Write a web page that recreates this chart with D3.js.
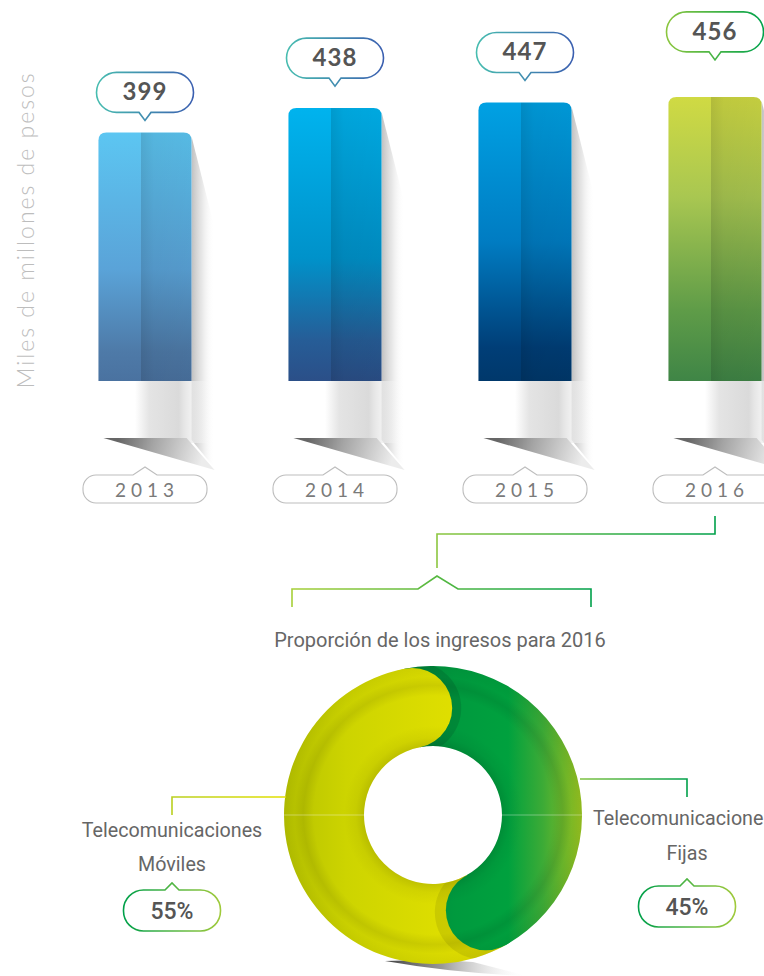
<!DOCTYPE html>
<html>
<head>
<meta charset="utf-8">
<script src="https://cdn.jsdelivr.net/npm/d3@7"></script>
<style>
  body { margin: 0; background: #fff; }
  svg { display: block; }
</style>
</head>
<body>
<div id="chart"></div>
<script>

// Data

var years = ["2013", "2014", "2015", "2016"];
var revenue = [399, 438, 447, 456];
var segmentNames = ["Fijas", "Móviles"];
var shares = [45, 55];

// Dimensions

var width = 764;
var height = 976;
var floorY = 381;

// Styles

var barStops = [
  [["0%", "#5cc6f2"], ["55%", "#5aa3d8"], ["88%", "#4e7aa8"], ["100%", "#4a72a0"]],
  [["0%", "#00b3ee"], ["55%", "#0092ca"], ["85%", "#265d97"], ["100%", "#2b4f88"]],
  [["0%", "#00a1e3"], ["50%", "#007cc2"], ["88%", "#003e77"], ["100%", "#00386b"]],
  [["0%", "#d0da43"], ["35%", "#a9c751"], ["75%", "#5f9c48"], ["100%", "#3f8546"]]
];
var bubbleStroke = [["#48bdb0", "#3b5fb0"], ["#48bdb0", "#3b5fb0"], ["#48bdb0", "#3b5fb0"], ["#8cc63f", "#00a24c"]];
var labelLift = [12, 22, 22, 37];

var svg = d3.select("#chart").append("svg")
    .attr("width", width)
    .attr("height", height);

var defs = svg.append("defs");

function gradient(id, stops, x1, y1, x2, y2, user) {
  var g = defs.append("linearGradient")
      .attr("id", id)
      .attr("x1", x1).attr("y1", y1).attr("x2", x2).attr("y2", y2);
  if (user) g.attr("gradientUnits", "userSpaceOnUse");
  stops.forEach(function(s) {
    g.append("stop")
      .attr("offset", s[0])
      .attr("stop-color", s[1])
      .attr("stop-opacity", s[2] === undefined ? 1 : s[2]);
  });
  return "url(#" + id + ")";
}

// pill with a pointer, pointer on "bottom" or "top"
function bubblePath(cx, y0, w, h, r, side, nw, nh) {
  var x0 = cx - w / 2, x1 = cx + w / 2, y1 = y0 + h;
  var p = "M" + (x0 + r) + "," + y0;
  if (side === "top") p += "H" + (cx - nw / 2) + "L" + cx + "," + (y0 - nh) + "L" + (cx + nw / 2) + "," + y0;
  p += "H" + (x1 - r) + "A" + r + "," + r + " 0 0 1 " + x1 + "," + (y0 + r);
  p += "V" + (y1 - r) + "A" + r + "," + r + " 0 0 1 " + (x1 - r) + "," + y1;
  if (side === "bottom") p += "H" + (cx + nw / 2) + "L" + cx + "," + (y1 + nh) + "L" + (cx - nw / 2) + "," + y1;
  p += "H" + (x0 + r) + "A" + r + "," + r + " 0 0 1 " + x0 + "," + (y1 - r);
  p += "V" + (y0 + r) + "A" + r + "," + r + " 0 0 1 " + (x0 + r) + "," + y0 + "Z";
  return p;
}

function barPath(x0, y0, w, h, r) {
  return "M" + x0 + "," + (y0 + h) + "V" + (y0 + r) +
    "Q" + x0 + "," + y0 + " " + (x0 + r) + "," + y0 +
    "H" + (x0 + w - r) +
    "Q" + (x0 + w) + "," + y0 + " " + (x0 + w) + "," + (y0 + r) +
    "V" + (y0 + h) + "Z";
}

// Scales

var x = d3.scaleBand()
    .domain(years)
    .range([50, 810])
    .paddingInner(0.51)
    .paddingOuter(0.255);

var y = d3.scaleLinear()
    .domain([0, 460])
    .range([floorY, floorY - 286.6]);

// Axis title

svg.append("text")
    .attr("transform", "translate(34,230) rotate(-90)")
    .attr("text-anchor", "middle")
    .style("font-family", "Lato, 'Open Sans', sans-serif")
    .style("font-weight", 300)
    .style("font-size", "23px")
    .style("letter-spacing", "2px")
    .style("fill", "#bdbdbd")
    .text("Miles de millones de pesos");

// Bars

var bars = svg.append("g").attr("class", "bars");

years.forEach(function(yr, i) {
  var v = revenue[i];
  var x0 = x(yr), w = x.bandwidth(), x1 = x0 + w, cx = x0 + w / 2;
  var top = y(v);
  var g = bars.append("g");

  // side shadow
  g.append("path")
    .attr("d", "M" + x1 + "," + (top + 4) + "L" + (x1 + 23) + "," + (top + 95) +
      "V" + 468 + "L" + x1 + "," + 440 + "Z")
    .attr("fill", gradient("side" + i, [["0%", "#8c8c8c", 0.55], ["45%", "#bbbbbb", 0.35], ["100%", "#ffffff", 0]], x1, 0, x1 + 23, 0, true));

  // strip below the bar
  g.append("rect")
    .attr("x", cx - 10).attr("y", floorY)
    .attr("width", x1 + 23 - (cx - 10)).attr("height", 62)
    .attr("fill", gradient("strip" + i, [["0%", "#ffffff"], ["18%", "#e4e4e4"], ["55%", "#dadada"], ["62%", "#e6e6e6"], ["100%", "#ffffff", 0]], cx - 10, 0, x1 + 23, 0, true));

  // wedge
  g.append("path")
    .attr("d", "M" + (x0 + 5) + ",438L" + (x1 - 5) + ",438L" + (x1 + 23) + ",470Z")
    .attr("fill", gradient("wedge" + i, [["0%", "#666"], ["40%", "#a4a4a4"], ["100%", "#ececec"]], x0 + 20, 438, x1 + 10, 462, true));

  // bar body
  var bp = barPath(x0, top, w, floorY - top, 8);
  defs.append("clipPath").attr("id", "clipBar" + i)
    .append("path").attr("d", bp);

  g.append("path")
    .attr("d", bp)
    .attr("fill", gradient("bar" + i, barStops[i], 0, top, 0, floorY, true));

  g.append("rect")
    .attr("clip-path", "url(#clipBar" + i + ")")
    .attr("x", cx - 4).attr("y", top)
    .attr("width", x1 - cx + 4).attr("height", floorY - top)
    .attr("fill", gradient("fold" + i, [["0%", "#000", 0.14], ["25%", "#000", 0.08], ["100%", "#000", 0.06]], cx - 4, 0, x1, 0, true));

  // value bubble
  var tip = top - labelLift[i];
  var bTop = tip - 8 - 40;
  g.append("path")
    .attr("d", bubblePath(cx, bTop, 97, 40, 20, "bottom", 12, 8))
    .attr("fill", "#fff")
    .attr("stroke", gradient("bub" + i, [["0%", bubbleStroke[i][0]], ["100%", bubbleStroke[i][1]]], "0%", "0%", "100%", "0%"))
    .attr("stroke-width", 1.6);

  g.append("text")
    .attr("x", cx).attr("y", bTop + 28)
    .attr("text-anchor", "middle")
    .style("font-family", "Lato, sans-serif")
    .style("font-weight", 700)
    .style("font-size", "24px")
    .style("letter-spacing", "1px")
    .style("fill", "#555")
    .text(v);

  // year box
  g.append("path")
    .attr("d", bubblePath(cx, 475, 124, 28, 13, "top", 24, 8))
    .attr("fill", "#fff")
    .attr("stroke", "#bdbdbd")
    .attr("stroke-width", 1.1);

  g.append("text")
    .attr("x", cx + 2).attr("y", 497)
    .attr("text-anchor", "middle")
    .style("font-family", "Lato, sans-serif")
    .style("font-weight", 400)
    .style("font-size", "19px")
    .style("letter-spacing", "5px")
    .style("fill", "#7a7a7a")
    .text(yr);
});

// Bracket connecting 2016 with the donut

var bx = x("2016") + x.bandwidth() / 2;

svg.append("path")
    .attr("d", "M" + bx + ",516V534H437V568")
    .attr("fill", "none")
    .attr("stroke", gradient("brk1", [["0%", "#8cc63f"], ["100%", "#00a04a"]], 437, 0, bx, 0, true))
    .attr("stroke-width", 1.6);

svg.append("path")
    .attr("d", "M292,607V589H418L437,576L458,589H591V607")
    .attr("fill", "none")
    .attr("stroke", gradient("brk2", [["0%", "#a6cf38"], ["100%", "#00a04a"]], 292, 0, 591, 0, true))
    .attr("stroke-width", 1.6);

svg.append("text")
    .attr("x", 440).attr("y", 647)
    .attr("text-anchor", "middle")
    .style("font-family", "Roboto, sans-serif")
    .style("font-size", "20px")
    .style("fill", "#666")
    .text("Proporción de los ingresos para 2016");

// Donut

var dcx = 433, dcy = 815, rOut = 149, rIn = 69, rMid = (rOut + rIn) / 2, capR = (rOut - rIn) / 2;
var a0 = -11 * Math.PI / 180;

var pie = d3.pie()
    .sort(null)
    .startAngle(a0)
    .endAngle(a0 + 2 * Math.PI);

var arc = d3.arc().innerRadius(rIn).outerRadius(rOut);
var arcs = pie(shares);

// gradients in the donut's local coordinates (centre at 0,0)
var fillGreen = gradient("gGreen", [["0%", "#00843d"], ["35%", "#009a3e"], ["62%", "#00a13e"], ["80%", "#3dab36"], ["100%", "#98c21f"]], -45, 0, rOut, 0, true);
var fillYellow = gradient("gYellow", [["0%", "#b6c200"], ["25%", "#cdd400"], ["60%", "#dcdd00"], ["100%", "#ede400"]], -rOut, 0, 100, 0, true);
var segFill = [fillGreen, fillYellow];

var donut = svg.append("g").attr("transform", "translate(" + dcx + "," + dcy + ")");

// bottom shadow
donut.append("path")
    .attr("d", "M-48,146Q0,144 40,147L95,161Q20,158 -48,146Z")
    .attr("fill", gradient("dshadow", [["0%", "#444"], ["40%", "#999"], ["100%", "#fff", 0]], -48, 0, 95, 0, true));

arcs.forEach(function(d, i) {
  defs.append("clipPath").attr("id", "clipSeg" + i)
    .append("path").attr("d", arc(d));
  donut.append("path")
    .attr("d", arc(d))
    .attr("fill", segFill[i]);
});

function capPos(a) { return [Math.sin(a) * rMid, -Math.cos(a) * rMid]; }

// yellow cap running into green at the top
var pTop = capPos(arcs[0].startAngle);
donut.append("circle")
    .attr("clip-path", "url(#clipSeg0)")
    .attr("cx", pTop[0] + 3).attr("cy", pTop[1])
    .attr("r", capR + 6)
    .attr("fill", "#00602a").attr("fill-opacity", 0.3);
donut.append("circle")
    .attr("cx", pTop[0]).attr("cy", pTop[1])
    .attr("r", capR)
    .attr("fill", fillYellow);

// green cap running into yellow at the bottom
var pBot = capPos(arcs[0].endAngle);
donut.append("circle")
    .attr("clip-path", "url(#clipSeg1)")
    .attr("cx", pBot[0] - 4).attr("cy", pBot[1] + 2)
    .attr("r", capR + 7)
    .attr("fill", "#8a8a00").attr("fill-opacity", 0.22);
donut.append("circle")
    .attr("cx", pBot[0]).attr("cy", pBot[1])
    .attr("r", capR)
    .attr("fill", fillGreen);

// ring shading
var rg = defs.append("radialGradient")
    .attr("id", "ringShade")
    .attr("gradientUnits", "userSpaceOnUse")
    .attr("cx", 0).attr("cy", 0).attr("r", rOut);
[[0.46, 0.12], [0.52, 0.04], [0.6, 0], [0.8, 0], [0.87, 0.08], [0.93, 0.02], [1, 0.05]].forEach(function(s) {
  rg.append("stop").attr("offset", s[0]).attr("stop-color", "#000").attr("stop-opacity", s[1]);
});
donut.append("path")
    .attr("d", d3.arc().innerRadius(rIn).outerRadius(rOut).startAngle(0).endAngle(2 * Math.PI)())
    .attr("fill", "url(#ringShade)");

// faint horizontal highlight
[[-rOut, -rIn], [rIn, rOut]].forEach(function(s) {
  donut.append("line")
    .attr("x1", s[0]).attr("x2", s[1]).attr("y1", 0).attr("y2", 0)
    .attr("stroke", "#ffffff").attr("stroke-opacity", 0.35).attr("stroke-width", 1);
});

// Donut labels

var labelFont = "Roboto, sans-serif";

// Móviles (left)
svg.append("path")
    .attr("d", "M172,815V797H" + (dcx - rOut + 2))
    .attr("fill", "none")
    .attr("stroke", gradient("lnL", [["0%", "#b9cf1f"], ["100%", "#e2e000"]], 172, 0, dcx - rOut, 0, true))
    .attr("stroke-width", 1.6);

svg.append("text")
    .attr("x", 172).attr("y", 837)
    .attr("text-anchor", "middle")
    .style("font-family", labelFont).style("font-size", "19.7px").style("fill", "#666")
    .text("Telecomunicaciones");
svg.append("text")
    .attr("x", 172).attr("y", 871)
    .attr("text-anchor", "middle")
    .style("font-family", labelFont).style("font-size", "19.7px").style("fill", "#666")
    .text(segmentNames[1]);

svg.append("path")
    .attr("d", bubblePath(172, 890, 97, 41, 20, "top", 14, 7))
    .attr("fill", "#fff")
    .attr("stroke", gradient("pctL", [["0%", "#00a04a"], ["100%", "#a0ca3c"]], "0%", "0%", "100%", "0%"))
    .attr("stroke-width", 1.6);
svg.append("text")
    .attr("x", 172).attr("y", 919)
    .attr("text-anchor", "middle")
    .style("font-family", labelFont).style("font-weight", 500).style("font-size", "23px").style("fill", "#555")
    .text(shares[1] + "%");

// Fijas (right)
svg.append("path")
    .attr("d", "M" + (dcx + rOut - 2) + ",779H687V797")
    .attr("fill", "none")
    .attr("stroke", gradient("lnR", [["0%", "#7ec242"], ["100%", "#00a04a"]], dcx + rOut, 0, 687, 0, true))
    .attr("stroke-width", 1.6);

svg.append("text")
    .attr("x", 593).attr("y", 825)
    .style("font-family", labelFont).style("font-size", "19.7px").style("fill", "#666")
    .text("Telecomunicaciones");
svg.append("text")
    .attr("x", 687).attr("y", 860)
    .attr("text-anchor", "middle")
    .style("font-family", labelFont).style("font-size", "19.7px").style("fill", "#666")
    .text(segmentNames[0]);

svg.append("path")
    .attr("d", bubblePath(687, 886, 97, 41, 20, "top", 14, 7))
    .attr("fill", "#fff")
    .attr("stroke", gradient("pctR", [["0%", "#00a04a"], ["100%", "#a0ca3c"]], "0%", "0%", "100%", "0%"))
    .attr("stroke-width", 1.6);
svg.append("text")
    .attr("x", 687).attr("y", 915)
    .attr("text-anchor", "middle")
    .style("font-family", labelFont).style("font-weight", 500).style("font-size", "23px").style("fill", "#555")
    .text(shares[0] + "%");

</script>
</body>
</html>
